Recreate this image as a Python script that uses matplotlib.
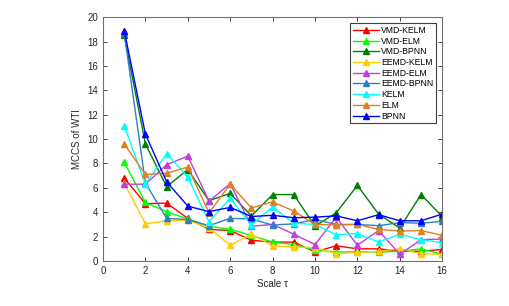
import matplotlib
matplotlib.use("Agg")
import matplotlib.pyplot as plt

plt.rcParams['font.family'] = ['Liberation Sans', 'DejaVu Sans']

scales = list(range(1, 17))
names = ["VMD-KELM", "VMD-ELM", "VMD-BPNN", "EEMD-KELM", "EEMD-ELM",
         "EEMD-BPNN", "KELM", "ELM", "BPNN"]

vmd_kelm = [6.8, 4.7, 4.75, 3.5, 2.6, 2.5, 1.7, 1.55, 1.55, 0.75, 1.25, 1.0, 1.0, 0.8, 0.8, 0.95]
vmd_elm = [8.1, 4.8, 4.05, 3.45, 2.85, 2.6, 2.1, 1.55, 1.35, 0.9, 0.75, 0.75, 0.75, 0.8, 1.0, 0.55]
vmd_bpnn = [18.5, 9.6, 6.1, 7.5, 4.95, 5.55, 3.7, 5.45, 5.45, 2.85, 3.95, 6.2, 3.85, 2.7, 5.45, 3.65]
eemd_kelm = [6.4, 3.05, 3.3, 3.35, 2.7, 1.3, 2.2, 1.25, 1.15, 1.1, 0.6, 0.7, 0.8, 1.0, 0.6, 0.55]
eemd_elm = [6.3, 6.3, 7.9, 8.6, 4.9, 6.35, 2.85, 3.0, 2.2, 1.35, 3.6, 1.3, 2.5, 0.55, 1.75, 1.8]
eemd_bpnn = [18.7, 6.4, 3.5, 3.4, 2.9, 3.5, 3.45, 2.95, 3.05, 3.4, 3.0, 3.0, 2.9, 3.15, 3.1, 3.25]
kelm = [11.1, 6.3, 8.8, 6.9, 3.2, 5.15, 2.95, 4.45, 3.1, 3.0, 2.15, 2.25, 1.55, 2.2, 1.75, 1.5]
elm = [9.6, 7.1, 7.2, 7.7, 3.95, 6.3, 4.35, 4.85, 4.1, 3.0, 2.95, 3.0, 2.6, 2.45, 2.5, 2.1]
bpnn = [18.9, 10.4, 6.5, 4.5, 4.05, 4.4, 3.65, 3.75, 3.55, 3.6, 3.7, 3.3, 3.8, 3.3, 3.3, 3.85]

series = [vmd_kelm, vmd_elm, vmd_bpnn, eemd_kelm, eemd_elm, eemd_bpnn, kelm, elm, bpnn]
colors = ["#FF0000", "#00FF00", "#008000", "#FFCC00", "#BF3FE0",
          "#2F80C0", "#00FFFF", "#E08020", "#0000FF"]

fig = plt.figure(figsize=(5.1, 3.06), dpi=100)
ax = fig.add_axes([0.202, 0.147, 0.665, 0.797])

for name, vals, c in zip(names, series, colors):
    ax.plot(scales, vals, color=c, marker='^', markersize=5, linewidth=1,
            label=name)

ax.set_xlim(0, 16)
ax.set_ylim(0, 20)
ax.set_xticks(range(0, 17, 2))
ax.set_yticks(range(0, 21, 2))
ax.tick_params(direction='in', top=True, right=True, labelsize=7,
               colors='#262626', length=3, width=0.6)
for s in ax.spines.values():
    s.set_color('#707070')
    s.set_linewidth(0.8)
ax.set_xlabel("Scale τ", fontsize=7, color='#262626', labelpad=2)
ax.set_ylabel("MCCS of WTI", fontsize=7, color='#262626', labelpad=4)

leg = ax.legend(loc='upper right', bbox_to_anchor=(0.982, 0.975), fontsize=6.2,
                fancybox=False, edgecolor='#404040', framealpha=1,
                handlelength=3.0, labelspacing=0.2, borderpad=0.3,
                handletextpad=0.3, borderaxespad=0)
leg.get_frame().set_linewidth(0.8)

fig.savefig("out.png", dpi=100)
